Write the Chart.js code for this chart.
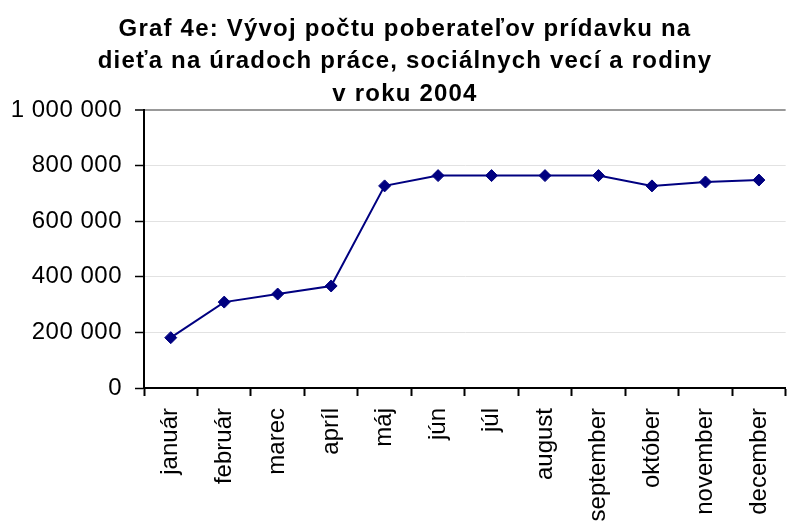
<!DOCTYPE html>
<html>
<head>
<meta charset="utf-8">
<script src="https://cdn.jsdelivr.net/npm/chart.js@4/dist/chart.umd.min.js"></script>
<style>
  html, body { margin: 0; padding: 0; background: #fff; overflow: hidden; }
  #wrap { width: 790px; height: 524px; overflow: hidden; position: relative; }
  canvas { display: block; }
</style>
</head>
<body>
<div id="wrap"><canvas id="c" width="800" height="524"></canvas></div>
<script>
const titleLines = [
  'Graf 4e: Vývoj počtu poberateľov prídavku na',
  'dieťa na úradoch práce, sociálnych vecí a rodiny',
  'v roku 2004'
];
const months = ['január', 'február', 'marec', 'apríl', 'máj', 'jún', 'júl', 'august', 'september', 'október', 'november', 'december'];
const recipients = [181000, 309000, 338000, 367000, 727000, 764000, 764000, 764000, 764000, 727000, 741000, 748000];
const yMin = 0;
const yMax = 1000000;
const yStep = 200000;

const FONT = "'Liberation Sans', Arial, sans-serif";

function fmt(v) {
  return String(v).replace(/\B(?=(\d{3})+(?!\d))/g, ' ');
}

function withSpacing(ctx, sp, fn) {
  ctx.save();
  ctx.letterSpacing = sp;
  fn();
  ctx.restore();
}

const spacingPlugin = {
  id: 'spacing',
  afterInit(chart) {
    const tb = chart.titleBlock;
    if (tb) {
      const orig = tb.draw.bind(tb);
      tb.draw = function (area) {
        const ctx = chart.ctx;
        ctx.save();
        ctx.letterSpacing = '1.2px';
        ctx.translate(5, 0);
        orig(area);
        ctx.restore();
      };
    }
  },
  afterUpdate(chart) {
    const ys = chart.scales.y;
    if (ys && !ys._spWrapped) {
      const d = ys.drawLabels.bind(ys);
      ys.drawLabels = function (a) { withSpacing(chart.ctx, '0.5px', () => d(a)); };
      ys._spWrapped = true;
    }
  }
};

new Chart(document.getElementById('c'), {
  type: 'line',
  data: {
    labels: months,
    datasets: [{
      data: recipients,
      borderColor: '#000080',
      backgroundColor: '#000080',
      borderWidth: 2,
      pointStyle: 'rectRot',
      pointRadius: 6,
      pointBorderWidth: 1,
      pointBorderColor: '#000080',
      pointBackgroundColor: '#000080',
      tension: 0,
      fill: false
    }]
  },
  options: {
    responsive: false,
    animation: false,
    devicePixelRatio: 1,
    layout: { padding: 0 },
    plugins: {
      legend: { display: false },
      tooltip: { enabled: false },
      title: {
        display: true,
        text: titleLines,
        color: '#000',
        font: { family: FONT, size: 24, weight: 'bold', lineHeight: 1.354 },
        padding: { top: 13, bottom: -0.5 }
      }
    },
    scales: {
      x: {
        offset: true,
        border: { display: true, color: '#000', width: 2 },
        grid: {
          display: true,
          offset: true,
          drawOnChartArea: false,
          drawTicks: true,
          tickLength: 8,
          tickColor: '#000',
          tickWidth: 2
        },
        ticks: {
          color: '#000',
          font: { family: FONT, size: 24 },
          minRotation: 90,
          maxRotation: 90,
          autoSkip: false,
          padding: 12
        },
        afterFit(scale) { scale.height = 136; }
      },
      y: {
        min: yMin,
        max: yMax,
        border: { display: true, color: '#000', width: 2 },
        grid: {
          color(ctx) {
            if (ctx.tick && ctx.tick.value === yMax) return '#999999';
            return '#e2e2e2';
          },
          lineWidth(ctx) {
            return (ctx.tick && ctx.tick.value === yMax) ? 2 : 1;
          },
          tickLength: 9,
          tickColor: '#000',
          tickWidth: 1.5
        },
        ticks: {
          stepSize: yStep,
          color: '#000',
          font: { family: FONT, size: 24 },
          padding: 13,
          callback(v) { return fmt(v); }
        },
        afterFit(scale) { scale.width = 144; }
      }
    }
  },
  plugins: [spacingPlugin]
});
</script>
</body>
</html>
